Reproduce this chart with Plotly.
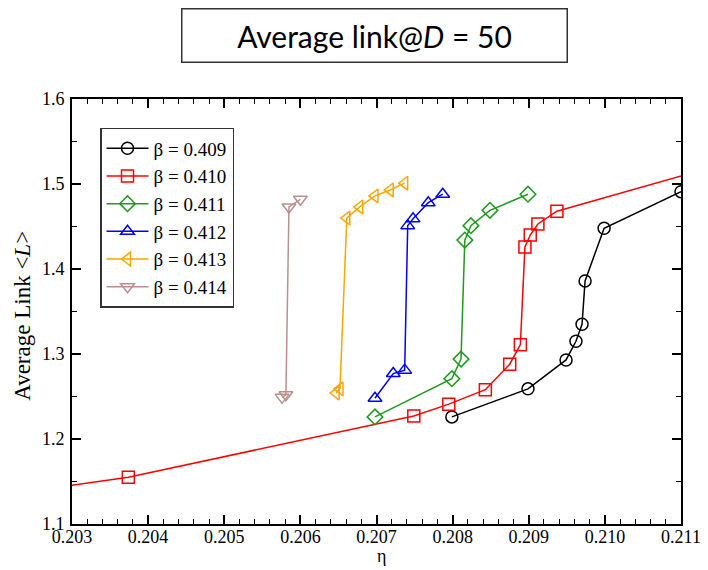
import plotly.graph_objects as go

# ---- data ----
names = ["β = 0.409", "β = 0.410", "β = 0.411", "β = 0.412", "β = 0.413", "β = 0.414"]

eta_409 = [0.20799, 0.20899, 0.20949, 0.20962, 0.20970, 0.20974, 0.20999, 0.21100]
L_409 = [1.226, 1.259, 1.293, 1.315, 1.335, 1.386, 1.448, 1.491]

eta_410 = [0.20200, 0.20374, 0.20749, 0.20795, 0.20843, 0.20875, 0.20889, 0.20895, 0.20902, 0.20912, 0.20937, 0.21150]
L_410 = [1.133, 1.155, 1.227, 1.241, 1.258, 1.288, 1.311, 1.426, 1.440, 1.453, 1.468, 1.522]

eta_411 = [0.20698, 0.20799, 0.20811, 0.20816, 0.20824, 0.20849, 0.20899]
L_411 = [1.226, 1.271, 1.294, 1.434, 1.451, 1.469, 1.488]

eta_412 = [0.20698, 0.20722, 0.20737, 0.20741, 0.20748, 0.20768, 0.20787]
L_412 = [1.248, 1.277, 1.281, 1.451, 1.459, 1.478, 1.488]

eta_413 = [0.20647, 0.20652, 0.20661, 0.20678, 0.20698, 0.20718, 0.20737]
L_413 = [1.254, 1.259, 1.460, 1.473, 1.486, 1.493, 1.501]

eta_414 = [0.20576, 0.20581, 0.20585, 0.20600]
L_414 = [1.249, 1.252, 1.473, 1.482]

x_ticks = [0.203, 0.204, 0.205, 0.206, 0.207, 0.208, 0.209, 0.210, 0.211]
x_ticklabels = ["0.203", "0.204", "0.205", "0.206", "0.207", "0.208", "0.209", "0.210", "0.211"]
y_ticks = [1.1, 1.2, 1.3, 1.4, 1.5, 1.6]
y_ticklabels = ["1.1", "1.2", "1.3", "1.4", "1.5", "1.6"]

series = [
    (eta_409, L_409, "#000000", "circle-open"),
    (eta_410, L_410, "#ff0000", "square-open"),
    (eta_411, L_411, "#1f9a1f", "diamond-open"),
    (eta_412, L_412, "#0000ff", "triangle-up-open"),
    (eta_413, L_413, "#ffa500", "triangle-left-open"),
    (eta_414, L_414, "#bc8f8f", "triangle-down-open"),
]

SERIF = "Liberation Serif"

fig = go.Figure()
for (xs, ys, col, sym), nm in zip(series, names):
    fig.add_trace(go.Scatter(
        x=xs, y=ys, name=nm, mode="lines+markers",
        line=dict(color=col, width=1.5),
        marker=dict(symbol=sym, size=12, color=col, line=dict(color=col, width=1.5)),
        cliponaxis=True,
    ))

axis_common = dict(
    showline=True, linecolor="black", linewidth=2, mirror="ticks",
    ticks="inside", ticklen=9, tickwidth=1.5, tickcolor="black",
    showgrid=False, zeroline=False, automargin=False,
    tickfont=dict(family=SERIF, size=18, color="black"),
)

fig.update_xaxes(
    range=[0.203, 0.211], tickmode="array", tickvals=x_ticks, ticktext=x_ticklabels,
    minor=dict(ticks="inside", ticklen=5, tickwidth=1.2, tickcolor="black",
               tickmode="linear", tick0=0.203, dtick=0.0002, showgrid=False),
    ticklabelstandoff=-5,
    **axis_common,
)
fig.update_yaxes(
    range=[1.1, 1.6], tickmode="array", tickvals=y_ticks, ticktext=y_ticklabels,
    minor=dict(ticks="inside", ticklen=5, tickwidth=1.2, tickcolor="black",
               tickmode="linear", tick0=1.1, dtick=0.05, showgrid=False),
    ticklabelstandoff=2,
    **axis_common,
)

# the page body has an 8px default margin, so the figure is drawn 8px smaller
fig.update_layout(
    width=700, height=562,
    margin=dict(l=64, r=27, t=91, b=46),
    paper_bgcolor="white", plot_bgcolor="white",
    showlegend=True,
    legend=dict(
        x=0.046, y=0.932, xanchor="left", yanchor="top",
        bgcolor="white", bordercolor="#333333", borderwidth=1.5,
        font=dict(family=SERIF, size=19, color="black"),
        itemwidth=42, tracegroupgap=0,
    ),
    annotations=[
        dict(
            text="Average link@<i>D</i> = 50",
            xref="paper", yref="paper", x=0.496, y=1.0, yshift=64,
            xanchor="center", yanchor="middle", showarrow=False,
            font=dict(family="Lato, Open Sans, sans-serif", size=30, color="black"),
            bordercolor="#333333", borderwidth=1.5, borderpad=6,
            width=372, height=40, bgcolor="white",
        ),
        dict(
            text="η", xref="paper", yref="paper", x=0.508, y=0, yshift=-32,
            xanchor="center", yanchor="middle", showarrow=False,
            font=dict(family=SERIF, size=18, color="black"),
        ),
        dict(
            text="Average Link &lt;<i>L</i>&gt;", xref="paper", yref="paper",
            x=0, y=0.49, xshift=-49, xanchor="center", yanchor="middle",
            textangle=-90, showarrow=False,
            font=dict(family=SERIF, size=23, color="black"),
        ),
    ],
)

fig.write_html("out.html")
